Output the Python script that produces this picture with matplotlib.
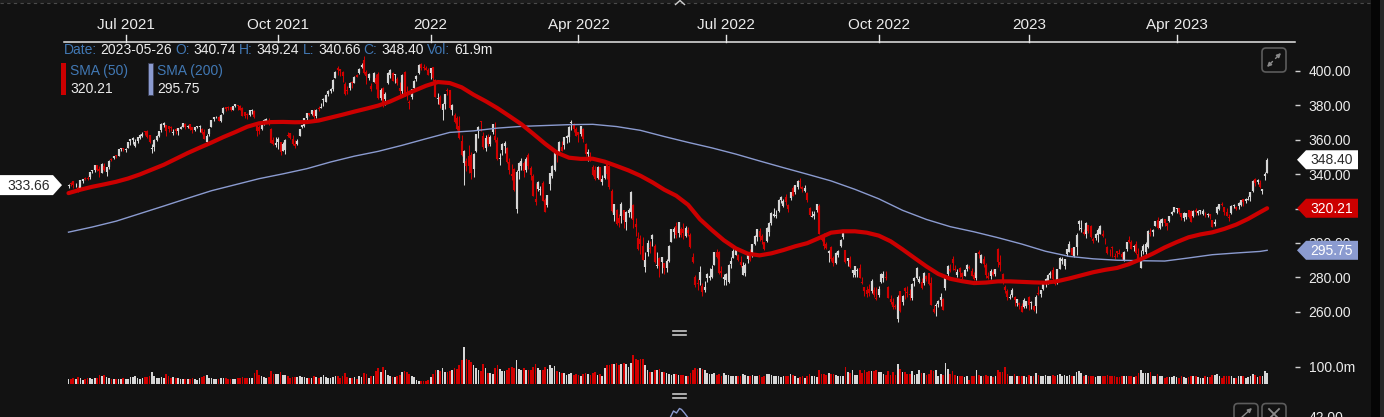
import numpy as np
import pandas as pd
import matplotlib
matplotlib.use("Agg")
import matplotlib.pyplot as plt
from matplotlib.transforms import blended_transform_factory
from matplotlib.patches import Polygon, Rectangle, FancyBboxPatch

plt.rcParams['font.family'] = ['Liberation Sans', 'DejaVu Sans']

# ---------------- data (daily bars, 2021-05-27 .. 2023-05-26) ----------------
open_ = [
 333.0, 335.0,
 336.0, 333.5, 331.9, 331.8, 336.0, 337.7, 338.0, 338.6, 341.8, 342.2, 345.5, 343.3, 340.9, 344.6, 341.0, 344.0, 348.3, 349.3, 351.1, 350.6, 354.6, 355.2,
 354.0, 355.5, 359.5, 360.0, 356.5, 359.2, 361.3, 362.1, 364.7, 365.2, 362.6, 354.5, 355.8, 360.0, 362.4, 365.5, 368.7, 368.6, 368.0, 367.1, 364.0,
 366.1, 365.2, 366.4, 367.7, 369.2, 367.6, 368.9, 367.3, 365.9, 367.6, 367.6, 366.5, 364.5, 358.9, 363.4, 367.5, 372.0, 373.0, 373.3, 371.2, 375.4, 379.2,
 378.6, 379.1, 377.4, 379.9, 380.1, 379.6, 378.7, 376.0, 374.9, 374.3, 376.8, 376.9, 368.2, 367.4, 366.5, 370.5, 370.9, 371.0, 366.5, 359.7, 357.0,
 358.7, 358.9, 353.6, 353.9, 362.8, 363.8, 360.6, 357.4, 357.4, 362.3, 367.6, 368.2, 372.8, 375.3, 375.1, 376.8, 373.8, 378.5, 378.6, 382.9, 382.0,
 386.6, 388.4, 389.3, 396.2, 401.5, 401.0, 399.5, 392.4, 388.6, 390.2, 393.6, 393.1, 397.6, 398.6, 402.3, 406.3, 399.5, 396.1, 391.5, 393.8, 395.8,
 398.0, 384.1, 390.1, 384.0, 393.2, 397.8, 398.7, 397.4, 395.3, 390.4, 388.1, 399.5, 386.7, 381.4, 385.1, 390.1, 395.1, 398.8, 404.0, 402.3, 401.9, 400.6,
 398.9, 402.2, 394.9, 383.5, 384.7, 377.2, 381.0, 388.8, 388.9, 377.3, 374.6, 372.7, 368.0, 359.5, 346.5, 347.9, 350.7, 351.4, 343.2, 353.6,
 365.1, 371.1, 362.3, 355.1, 361.5, 357.4, 364.8, 362.1, 359.9, 348.7, 353.8, 356.3, 355.2, 347.1, 340.1, 342.8, 320.0, 341.6, 344.5,
 346.5, 342.2, 351.1, 343.5, 338.7, 325.5, 331.3, 330.7, 335.0, 325.0, 322.3, 334.5, 339.0, 342.6, 351.5, 352.9, 355.8, 356.7, 361.0, 361.6, 369.6, 368.5, 366.0,
 364.4, 363.3, 366.3, 357.8, 351.5, 350.8, 344.3, 342.6, 337.9, 343.9, 335.3, 337.8, 347.0, 344.5, 330.5, 316.0, 319.2, 314.4, 315.6, 318.9,
 312.3, 317.6, 318.2, 322.3, 311.0, 302.7, 302.2, 298.0, 286.1, 294.8, 297.3, 302.1, 298.4, 286.6, 291.1, 288.7, 288.2, 285.2, 289.7, 300.8, 306.5,
 310.1, 305.6, 308.3, 308.1, 304.1, 307.4, 304.5, 291.6, 280.0, 276.7, 278.2, 275.0, 272.5, 279.9, 279.4, 280.0, 287.4, 295.0, 294.8, 283.8, 279.3,
 278.5, 277.2, 287.7, 291.4, 293.1, 293.3, 289.0, 281.6, 282.4, 290.8, 294.2, 294.3, 299.5, 303.5, 307.2, 304.2, 300.4, 301.2, 306.6, 311.6,
 315.6, 315.5, 318.6, 325.1, 321.8, 326.9, 322.0, 326.0, 332.0, 329.6, 332.4, 335.4, 332.7, 330.5, 328.8, 320.4, 315.4, 315.6, 318.9, 321.7, 302.3, 304.4, 299.3,
 294.3, 297.4, 291.5, 288.5, 292.8, 298.2, 303.2, 296.0, 289.6, 290.1, 282.5, 281.3, 283.9, 285.2, 277.6, 274.4, 272.4, 273.0, 272.0, 272.4, 268.0,
 270.0, 277.5, 279.7, 280.4, 274.7, 267.5, 265.7, 263.2, 255.9, 271.9, 265.7, 273.6, 271.2, 270.6, 268.3, 277.8, 279.6, 277.6, 277.2, 276.6, 281.1,
 282.7, 276.5, 261.8, 263.1, 264.3, 266.8, 267.3, 273.9, 281.9, 285.1, 290.8, 285.0, 281.3, 285.5, 282.6, 281.0, 284.6, 285.8, 283.5, 281.3, 279.9,
 294.6, 288.6, 290.6, 287.4, 281.1, 281.0, 282.9, 281.8, 296.3, 289.1, 282.0, 274.2, 272.3, 268.2, 269.5, 268.5, 265.3, 265.2, 263.2, 262.7, 263.2,
 268.6, 265.3, 263.5, 263.5, 270.6, 270.1, 273.2, 278.0, 276.8, 281.4, 284.5, 277.6, 277.5, 285.1, 289.3, 286.5, 293.8, 294.9, 297.0, 292.7,
 297.6, 311.2, 308.0, 306.3, 305.0, 310.2, 310.0, 302.1, 302.7, 304.5, 305.5, 305.0, 302.2, 297.5, 294.7, 297.4, 292.6, 295.2, 294.4,
 293.8, 289.7, 296.4, 301.8, 300.6, 297.5, 299.7, 293.7, 285.6, 295.1, 294.8, 297.4, 305.7, 306.6, 310.1, 313.1, 308.5, 311.8, 313.7, 311.5, 313.0, 317.1, 318.0,
 319.6, 320.5, 317.3, 314.5, 315.3, 318.9, 318.6, 315.5, 319.0, 317.6, 318.5, 316.9, 316.2, 316.4, 316.6, 313.5, 311.3, 317.5, 319.5,
 322.8, 320.9, 318.3, 315.1, 317.4, 321.3, 320.8, 321.7, 322.1, 325.7, 324.3, 325.1, 326.5, 330.4, 337.4, 335.4, 335.0, 330.0, 339.0, 340.74,
]
high = [
 334.4, 335.3,
 336.1, 334.6, 333.0, 336.9, 337.4, 338.6, 339.2, 341.5, 342.7, 345.3, 345.6, 344.7, 346.3, 346.8, 344.2, 348.2, 349.4, 350.8, 351.2, 354.5, 355.5, 355.4,
 355.0, 358.8, 360.5, 361.5, 360.3, 361.6, 363.2, 364.5, 365.3, 365.5, 363.0, 357.4, 360.5, 362.8, 365.2, 369.5, 370.2, 368.8, 368.2, 368.3, 366.2,
 366.8, 367.1, 367.8, 369.6, 369.5, 368.4, 369.0, 367.4, 367.4, 368.3, 368.4, 367.1, 366.4, 363.4, 366.7, 371.8, 373.2, 374.1, 373.6, 374.9, 378.9, 379.3,
 379.9, 379.3, 379.7, 381.0, 380.4, 380.3, 378.9, 376.4, 375.6, 377.6, 377.8, 377.1, 368.8, 368.8, 370.6, 371.9, 372.4, 372.5, 366.8, 361.8, 361.9,
 361.4, 359.0, 359.0, 360.3, 364.6, 364.1, 362.6, 360.0, 360.6, 366.3, 368.7, 372.6, 375.6, 375.7, 377.2, 378.1, 377.8, 379.9, 381.3, 384.4, 386.6,
 388.8, 390.3, 395.4, 400.0, 402.8, 401.3, 399.8, 393.6, 391.0, 393.6, 393.9, 397.2, 398.4, 401.8, 404.7, 408.7, 400.6, 398.6, 393.1, 399.4, 398.4,
 399.3, 390.2, 390.6, 388.0, 399.4, 401.1, 399.7, 398.3, 396.8, 393.4, 398.5, 400.2, 391.1, 383.2, 389.7, 394.7, 397.5, 403.9, 404.6, 404.3, 403.1, 402.0,
 402.0, 402.3, 395.6, 387.4, 386.1, 381.2, 386.7, 390.2, 389.2, 381.0, 375.8, 374.0, 373.9, 363.0, 354.1, 349.5, 357.0, 353.0, 352.1, 363.2,
 367.8, 371.2, 364.3, 362.7, 363.1, 362.7, 369.0, 370.5, 361.5, 352.6, 357.9, 359.4, 355.6, 349.7, 345.9, 343.5, 342.6, 347.0, 349.7,
 347.4, 350.0, 352.6, 344.6, 340.4, 334.7, 336.1, 333.1, 336.0, 326.0, 328.1, 340.7, 345.2, 352.8, 353.8, 359.5, 359.1, 361.8, 362.6, 367.9, 371.6, 369.5, 367.2,
 364.7, 368.3, 366.8, 358.4, 354.6, 353.0, 345.5, 344.8, 344.6, 344.1, 339.5, 345.0, 347.6, 345.6, 331.5, 322.8, 319.6, 317.0, 323.9, 319.0,
 318.4, 320.6, 330.0, 322.8, 314.3, 306.4, 304.4, 303.6, 294.8, 301.5, 301.0, 305.1, 299.4, 294.6, 292.1, 292.1, 288.4, 290.9, 298.7, 308.2, 309.5,
 312.0, 312.4, 309.3, 311.4, 309.6, 309.2, 305.9, 294.2, 281.6, 279.1, 286.9, 276.5, 277.9, 282.4, 285.4, 287.3, 294.6, 296.4, 295.2, 286.6, 281.9,
 282.4, 287.6, 291.7, 296.3, 297.9, 293.6, 292.7, 289.0, 288.5, 292.9, 296.7, 299.6, 304.8, 308.0, 308.5, 305.1, 300.5, 309.1, 312.2, 318.0,
 320.4, 319.4, 325.3, 327.4, 325.8, 328.6, 322.5, 329.6, 333.2, 333.9, 336.4, 337.8, 332.9, 333.8, 329.4, 321.1, 318.7, 318.7, 322.9, 322.4, 304.7, 306.1, 300.6,
 296.1, 298.4, 292.7, 294.6, 296.1, 302.3, 305.8, 296.1, 291.3, 292.5, 284.5, 286.9, 285.5, 287.9, 280.5, 274.6, 274.9, 275.9, 279.0, 274.3, 274.3,
 275.0, 282.4, 284.0, 283.6, 275.0, 270.0, 268.0, 264.6, 270.0, 272.2, 269.9, 274.4, 275.0, 273.4, 276.5, 280.5, 285.9, 281.1, 279.7, 283.1, 281.3,
 282.8, 280.0, 263.8, 265.4, 266.6, 271.2, 268.1, 281.3, 287.4, 287.6, 292.4, 287.1, 284.8, 285.8, 283.2, 284.6, 288.0, 287.2, 285.5, 283.0, 294.0,
 296.1, 293.7, 292.7, 288.3, 283.2, 284.6, 285.1, 285.0, 296.9, 292.8, 282.3, 275.3, 273.4, 270.2, 274.1, 269.0, 267.5, 265.6, 265.4, 267.9, 266.4,
 269.0, 266.4, 264.1, 269.5, 275.2, 272.8, 277.7, 279.5, 281.8, 283.5, 285.8, 278.2, 284.8, 292.0, 291.6, 290.6, 296.6, 301.2, 297.1, 297.9,
 305.6, 313.6, 313.1, 308.0, 312.4, 310.6, 310.2, 303.2, 305.8, 308.6, 310.2, 307.8, 302.7, 298.1, 296.6, 298.5, 294.1, 295.5, 296.7,
 294.6, 295.3, 300.6, 304.3, 301.5, 299.0, 301.3, 297.0, 295.7, 299.2, 300.3, 307.8, 309.0, 307.9, 313.0, 314.9, 313.9, 314.5, 313.7, 311.6, 315.9, 318.4, 321.1,
 320.5, 320.6, 317.7, 318.0, 317.6, 318.9, 318.9, 319.0, 320.5, 319.0, 319.4, 319.5, 317.9, 317.3, 317.1, 313.6, 314.2, 321.7, 322.9,
 323.7, 321.1, 320.4, 316.8, 322.3, 322.9, 321.8, 323.9, 325.2, 325.8, 325.9, 327.2, 329.7, 336.4, 337.6, 337.4, 336.4, 331.6, 341.3, 349.24,
]
low = [
 331.9, 333.3,
 332.0, 332.3, 329.6, 331.6, 334.9, 336.4, 336.8, 337.4, 340.6, 341.2, 341.6, 338.3, 340.6, 342.0, 338.7, 343.0, 347.5, 348.9, 349.5, 350.4, 353.6, 353.4,
 352.8, 355.2, 356.9, 357.5, 355.6, 358.3, 360.5, 361.7, 362.9, 361.2, 358.3, 352.5, 353.2, 359.3, 361.6, 364.8, 367.6, 362.1, 364.4, 365.3, 362.6,
 363.5, 362.9, 366.2, 367.4, 366.3, 366.6, 365.5, 364.2, 365.1, 367.0, 364.3, 363.2, 360.5, 357.6, 362.2, 367.3, 371.2, 372.6, 370.7, 370.4, 375.1, 376.6,
 377.6, 376.7, 377.1, 379.3, 377.4, 377.3, 374.0, 372.7, 372.2, 373.6, 374.9, 372.6, 362.5, 363.6, 365.6, 368.8, 370.2, 368.4, 357.9, 356.7, 355.6,
 354.4, 351.3, 353.3, 351.9, 361.5, 360.6, 357.2, 355.4, 356.8, 362.1, 366.6, 367.6, 371.8, 373.6, 374.4, 372.1, 372.6, 376.8, 378.3, 379.6, 381.8,
 385.5, 387.4, 388.2, 395.9, 397.8, 397.3, 393.4, 386.1, 386.5, 388.7, 390.2, 392.9, 396.3, 398.1, 402.0, 398.3, 392.4, 395.0, 388.2, 393.6, 389.3,
 384.0, 382.9, 378.9, 380.0, 392.7, 396.1, 394.3, 393.0, 391.9, 385.5, 384.8, 385.5, 383.0, 378.1, 383.6, 388.2, 394.2, 398.5, 400.6, 400.3, 400.4, 397.7,
 395.6, 394.4, 384.6, 380.6, 378.2, 371.7, 378.1, 385.8, 378.0, 374.2, 369.7, 365.5, 360.3, 350.6, 333.7, 341.8, 340.5, 337.0, 338.4, 352.8,
 360.8, 365.3, 354.8, 353.3, 356.3, 356.5, 363.4, 359.0, 348.0, 345.4, 351.1, 352.3, 346.3, 340.4, 336.9, 330.4, 317.4, 337.2, 342.3,
 338.6, 341.5, 342.9, 336.8, 327.1, 322.0, 330.4, 328.0, 324.4, 317.8, 320.8, 331.0, 337.9, 342.0, 346.9, 352.3, 353.3, 354.5, 357.9, 358.9, 365.6, 364.4, 362.3,
 358.9, 362.3, 358.6, 350.4, 347.4, 347.5, 338.9, 336.5, 337.0, 336.2, 333.6, 337.4, 337.3, 331.5, 318.0, 312.6, 310.3, 309.4, 311.6, 309.0,
 307.7, 315.2, 314.6, 309.0, 304.3, 296.0, 293.5, 289.9, 282.9, 292.3, 294.0, 298.4, 288.3, 285.2, 280.2, 282.4, 282.1, 283.1, 289.0, 300.6, 303.1,
 302.8, 303.7, 303.5, 302.2, 303.3, 304.2, 297.2, 288.4, 274.2, 272.7, 275.4, 269.3, 271.3, 277.4, 278.7, 279.5, 287.1, 291.3, 281.8, 280.1, 275.3,
 275.6, 276.8, 285.4, 291.1, 292.8, 289.3, 286.3, 281.3, 280.6, 288.1, 289.5, 292.1, 299.0, 301.4, 301.2, 299.4, 295.7, 300.6, 304.0, 310.7,
 315.1, 314.7, 318.3, 323.0, 320.7, 322.1, 317.9, 324.8, 327.1, 328.6, 331.6, 332.1, 329.6, 329.8, 324.0, 315.6, 315.1, 313.7, 318.2, 305.1, 301.1, 296.7, 296.4,
 289.2, 289.7, 286.7, 287.6, 291.6, 297.8, 302.3, 288.5, 286.4, 285.3, 280.0, 280.3, 280.5, 279.6, 276.2, 268.9, 268.4, 268.9, 270.7, 268.7, 266.9,
 268.5, 276.8, 277.2, 278.7, 267.8, 264.5, 261.4, 261.4, 254.3, 259.9, 264.0, 267.4, 268.6, 266.6, 267.1, 275.1, 278.9, 276.6, 273.2, 275.3, 278.0,
 275.4, 263.8, 259.5, 257.3, 262.6, 263.6, 261.2, 272.7, 280.3, 283.0, 284.5, 283.6, 280.2, 280.1, 279.0, 280.7, 283.6, 285.0, 280.7, 278.2, 278.4,
 291.1, 288.1, 286.2, 279.9, 278.8, 279.2, 281.1, 281.0, 285.8, 283.5, 276.1, 270.9, 267.1, 267.4, 268.6, 263.3, 263.2, 261.8, 259.9, 262.3, 262.4,
 261.0, 261.4, 260.6, 259.5, 269.9, 268.5, 272.9, 274.2, 276.1, 279.5, 278.7, 275.4, 276.3, 284.8, 288.0, 284.6, 292.3, 294.6, 292.9, 292.1,
 293.1, 307.7, 306.5, 304.4, 302.7, 305.6, 302.8, 299.8, 301.6, 300.4, 305.1, 303.7, 299.6, 293.8, 292.2, 291.8, 290.8, 291.6, 293.4,
 290.5, 289.5, 295.4, 300.0, 296.3, 295.2, 293.8, 289.3, 285.3, 293.4, 293.2, 297.0, 304.1, 303.9, 309.9, 308.3, 307.9, 309.9, 309.9, 307.4, 312.4, 316.1, 317.9,
 317.6, 317.0, 313.2, 313.0, 314.0, 314.6, 312.2, 315.0, 316.2, 316.3, 317.0, 316.5, 315.2, 315.0, 314.1, 309.2, 310.0, 316.7, 318.9,
 321.3, 316.5, 315.8, 313.0, 316.9, 320.3, 319.0, 319.8, 321.5, 321.7, 323.2, 325.0, 324.6, 329.7, 333.2, 334.4, 332.0, 328.2, 336.9, 340.66,
]
close = [
 333.66, 334.1,
 333.6, 334.0, 330.6, 336.4, 337.0, 337.2, 337.3, 341.4, 342.0, 345.1, 342.7, 341.6, 345.8, 342.5, 344.0, 347.8, 348.2, 350.6, 350.3, 354.4, 355.0, 354.4,
 354.6, 358.6, 360.2, 361.0, 358.9, 361.4, 363.0, 363.4, 364.6, 361.9, 358.9, 355.2, 359.6, 362.5, 365.0, 369.4, 369.6, 365.2, 366.4, 367.0, 364.6,
 364.9, 367.0, 367.2, 369.5, 367.4, 368.2, 366.5, 365.7, 367.3, 368.2, 368.2, 364.2, 360.6, 362.3, 366.1, 371.6, 373.0, 373.4, 370.9, 374.5, 378.7, 377.9,
 378.3, 377.6, 379.4, 380.6, 379.4, 377.5, 374.1, 373.8, 374.5, 377.4, 377.6, 373.5, 365.0, 365.1, 368.6, 371.6, 372.2, 369.0, 358.2, 357.3, 358.0,
 360.5, 352.9, 357.5, 359.6, 362.4, 361.2, 357.6, 356.3, 359.2, 366.1, 368.6, 372.4, 375.3, 374.3, 377.1, 373.2, 377.4, 378.1, 379.2, 383.8, 386.1,
 388.3, 389.8, 394.8, 399.6, 400.5, 399.8, 396.9, 386.9, 388.5, 393.2, 393.0, 396.7, 396.7, 401.3, 403.6, 398.6, 397.0, 398.0, 389.4, 398.9, 392.3,
 384.3, 388.7, 382.2, 386.5, 398.9, 400.5, 394.4, 398.1, 392.8, 388.2, 397.9, 387.5, 386.0, 381.2, 389.5, 394.3, 397.3, 403.6, 401.8, 401.7, 400.6, 397.9,
 401.7, 396.2, 384.7, 384.4, 380.4, 380.8, 386.5, 388.1, 378.6, 380.1, 370.4, 366.2, 361.2, 351.3, 353.6, 344.6, 344.5, 340.6, 351.9, 363.1,
 367.5, 370.3, 355.8, 360.9, 357.8, 361.5, 368.9, 360.1, 349.0, 349.4, 357.8, 358.2, 347.3, 342.2, 338.9, 330.6, 341.3, 346.8, 347.9,
 342.1, 349.0, 344.7, 339.7, 327.5, 323.7, 335.6, 331.6, 324.6, 318.2, 328.0, 340.6, 344.8, 352.6, 351.3, 358.6, 353.5, 361.6, 362.0, 367.7, 369.8, 366.3, 362.5,
 362.9, 368.0, 360.3, 352.0, 352.9, 348.0, 339.3, 337.2, 344.0, 336.4, 337.1, 344.9, 340.3, 332.4, 318.4, 322.5, 310.8, 311.6, 322.7, 313.2,
 318.2, 319.0, 329.7, 313.1, 309.4, 296.6, 299.6, 290.2, 289.9, 300.2, 296.6, 304.9, 289.0, 287.3, 286.8, 291.8, 285.4, 289.7, 298.1, 308.1, 308.0,
 304.8, 312.3, 304.5, 305.8, 308.5, 305.9, 297.4, 288.8, 275.5, 276.1, 283.1, 271.4, 274.7, 281.7, 281.0, 285.0, 294.6, 291.8, 282.4, 282.7, 280.3,
 282.1, 287.4, 289.6, 295.6, 296.0, 289.9, 287.2, 286.5, 287.4, 292.8, 290.4, 299.5, 304.1, 308.0, 303.3, 301.8, 296.4, 308.8, 311.8, 317.4,
 317.0, 316.0, 325.0, 327.0, 324.6, 323.7, 319.9, 329.4, 327.5, 333.8, 336.3, 335.3, 331.4, 332.2, 325.1, 316.4, 315.9, 316.9, 322.6, 305.4, 301.6, 298.4, 296.9,
 295.2, 290.6, 288.4, 294.0, 295.6, 302.0, 305.6, 288.9, 291.1, 286.3, 284.3, 286.6, 284.3, 279.9, 276.8, 272.3, 270.6, 270.8, 278.0, 270.0, 267.3,
 273.5, 282.0, 281.8, 279.5, 268.3, 265.7, 262.9, 262.8, 268.8, 260.3, 269.2, 272.0, 271.1, 269.9, 276.3, 279.4, 285.5, 279.0, 274.0, 282.6, 279.1,
 276.0, 263.9, 259.9, 263.8, 266.4, 268.6, 261.3, 281.0, 286.6, 283.6, 288.1, 284.2, 283.4, 283.2, 280.1, 284.4, 287.1, 285.3, 281.0, 278.8, 294.0,
 293.6, 293.0, 287.6, 281.2, 279.9, 283.5, 281.4, 284.9, 288.9, 287.1, 277.6, 272.5, 268.6, 268.5, 272.6, 266.6, 267.4, 263.7, 260.1, 267.0, 266.3,
 263.7, 265.4, 261.3, 268.6, 270.3, 272.5, 277.6, 279.3, 281.3, 282.7, 279.0, 276.4, 284.7, 291.4, 290.6, 290.5, 296.5, 299.4, 293.1, 297.9,
 304.5, 312.9, 308.7, 305.3, 311.8, 306.7, 303.6, 301.0, 305.5, 307.5, 310.0, 304.2, 302.1, 294.1, 294.5, 297.0, 292.0, 294.4, 293.7,
 291.8, 294.7, 300.5, 300.6, 296.8, 298.5, 294.1, 289.5, 291.2, 298.0, 299.6, 307.2, 305.1, 307.5, 312.9, 308.5, 312.6, 313.8, 311.4, 309.9, 315.7, 318.2, 320.9,
 319.7, 318.2, 315.1, 317.5, 317.3, 315.2, 312.5, 318.8, 318.1, 318.8, 318.9, 318.8, 316.0, 317.0, 315.6, 309.4, 312.1, 320.9, 322.6,
 321.9, 318.3, 315.9, 314.6, 321.6, 322.2, 319.9, 323.2, 324.8, 323.6, 325.6, 325.8, 329.5, 336.0, 335.1, 336.5, 332.4, 331.4, 339.9, 348.40,
]
volume_m = [
 30, 28,
 33, 27, 40, 38, 26, 30, 34, 38, 32, 35, 38, 55, 47, 52, 40, 37, 30, 32, 30, 32, 29, 34,
 30, 31, 41, 39, 47, 34, 32, 38, 40, 43, 45, 68, 50, 37, 35, 40, 33, 60, 48, 35, 44,
 33, 34, 30, 30, 31, 28, 32, 33, 27, 25, 35, 44, 49, 55, 38, 37, 31, 29, 32, 36, 38, 34,
 32, 31, 29, 31, 34, 33, 40, 38, 36, 35, 37, 65, 80, 52, 47, 40, 38, 44, 75, 58, 60,
 58, 70, 52, 54, 45, 38, 40, 42, 43, 47, 42, 40, 38, 33, 36, 48, 40, 37, 39, 52, 43,
 34, 34, 43, 46, 46, 36, 48, 64, 40, 35, 34, 39, 30, 45, 44, 62, 58, 36, 48, 45, 77,
 95, 70, 100, 80, 55, 45, 40, 42, 48, 55, 70, 75, 70, 60, 45, 40, 24, 18, 20, 17, 16, 22,
 40, 60, 80, 85, 75, 95, 70, 68, 75, 80, 95, 90, 110, 140, 220, 150, 140, 130, 110, 95,
 80, 75, 120, 95, 65, 62, 60, 95, 110, 90, 75, 75, 85, 95, 100, 95, 140, 90, 85,
 95, 85, 80, 85, 100, 115, 95, 80, 85, 100, 90, 110, 95, 105, 75, 70, 65, 65, 55, 60, 65, 55, 60,
 55, 45, 60, 65, 60, 55, 65, 70, 55, 60, 50, 95, 110, 110, 120, 115, 125, 110, 120, 125,
 120, 100, 125, 170, 150, 140, 145, 150, 110, 85, 70, 70, 85, 80, 88, 70, 70, 65, 60, 55, 60,
 60, 55, 55, 55, 50, 50, 65, 80, 95, 90, 95, 90, 85, 65, 60, 60, 65, 55, 60, 50, 65,
 55, 55, 50, 45, 45, 45, 45, 60, 55, 50, 50, 55, 50, 50, 55, 40, 45, 60, 60, 55,
 45, 45, 50, 40, 45, 45, 50, 60, 55, 45, 38, 42, 45, 38, 50, 60, 45, 45, 42, 85, 60, 60, 55,
 65, 60, 60, 55, 50, 50, 45, 100, 70, 65, 80, 55, 55, 80, 65, 85, 70, 75, 75, 75, 85,
 70, 70, 60, 55, 75, 55, 70, 55, 115, 90, 70, 70, 60, 60, 75, 55, 60, 80, 65, 65, 55,
 60, 80, 75, 85, 50, 60, 55, 125, 90, 60, 75, 55, 50, 50, 45, 40, 45, 22, 45, 45, 85,
 55, 50, 45, 55, 50, 45, 40, 45, 85, 70, 70, 100, 60, 50, 50, 60, 45, 45, 50, 45, 40,
 55, 50, 50, 65, 55, 45, 50, 55, 45, 45, 55, 50, 55, 60, 45, 55, 50, 55, 45, 50,
 70, 75, 65, 45, 55, 50, 50, 45, 40, 50, 45, 50, 50, 55, 50, 50, 50, 40, 40,
 45, 50, 50, 45, 45, 40, 50, 65, 80, 65, 65, 65, 70, 50, 50, 60, 50, 50, 38, 42, 40, 40, 45,
 40, 35, 45, 40, 35, 40, 50, 45, 45, 40, 35, 35, 45, 40, 40, 55, 55, 60, 45,
 35, 45, 50, 45, 50, 35, 35, 45, 45, 45, 35, 40, 50, 60, 55, 40, 50, 50, 75, 61.9,
]
# SMA(50) read at every 5th bar (plus the last bar)
sma50 = [329.0, 331.0, 332.7, 334.1, 335.6, 337.5, 339.9, 342.7, 345.5, 348.9,
         352.3, 355.4, 358.4, 361.6, 364.5, 367.6, 369.6, 370.3, 370.4, 370.2,
         370.3, 371.2, 372.9, 374.6, 376.4, 378.1, 379.9, 382.3, 385.4, 388.5,
         391.4, 393.6, 393.0, 390.5, 386.2, 382.5, 378.4, 373.8, 369.1, 363.5,
         357.7, 352.5, 349.6, 348.9, 349.0, 347.3, 344.8, 342.2, 339.1, 335.3,
         331.0, 327.5, 322.2, 313.8, 307.5, 301.6, 296.9, 293.8, 292.8, 294.0,
         295.9, 298.1, 299.9, 302.9, 306.0, 306.8, 306.8, 306.0, 304.3, 301.0,
         296.3, 291.3, 286.4, 282.0, 279.2, 277.8, 276.7, 277.0, 277.7, 277.7,
         277.4, 277.1, 276.9, 277.8, 279.4, 281.2, 283.0, 284.4, 285.5, 287.7,
         290.6, 293.8, 297.4, 300.5, 303.3, 305.0, 306.2, 308.2, 310.7, 314.0,
         317.9, 320.21]
# SMA(200) read at every 10th bar (plus the last bar)
sma200 = [306.3, 309.3, 312.7, 317.1, 321.5, 326.0, 330.4, 333.9, 337.4, 340.2, 343.2, 347.1, 350.5,
          353.3, 356.8, 360.6, 364.3, 365.2, 366.8, 367.8, 368.3, 368.8, 369.0, 367.7, 365.5, 361.9,
          358.5, 355.3, 351.7, 347.7, 343.8, 340.0, 336.1, 331.2, 325.7, 319.0, 313.7, 309.5, 306.5,
          303.1, 299.4, 295.2, 292.2, 290.8, 290.0, 289.7, 289.5, 291.3, 293.2, 294.2, 295.1, 295.75]

holidays = ['2021-05-31', '2021-07-05', '2021-09-06', '2021-11-25', '2021-12-24', '2022-01-17',
            '2022-02-21', '2022-04-15', '2022-05-30', '2022-06-20', '2022-07-04', '2022-09-05',
            '2022-11-24', '2022-12-26', '2023-01-02', '2023-01-16', '2023-02-20', '2023-04-07']
x_tick_months = ['2021-07-01', '2021-10-01', '2022-01-01', '2022-04-01',
                 '2022-07-01', '2022-10-01', '2023-01-01', '2023-04-01']
x_tick_labels = ['Jul 2021', 'Oct 2021', '2022', 'Apr 2022', 'Jul 2022', 'Oct 2022', '2023', 'Apr 2023']
price_ticks = [260, 280, 300, 320, 340, 360, 380, 400]
volume_ticks = [100]

# ---------------- setup ----------------
n = min(len(open_), len(high), len(low), len(close), len(volume_m))
O = np.array(open_[:n]); Hh = np.array(high[:n]); Lw = np.array(low[:n]); C = np.array(close[:n])
V = np.array(volume_m[:n], dtype=float)
dates = pd.bdate_range('2021-05-27', '2023-05-26')
dates = dates[~dates.isin(pd.to_datetime(holidays))]
dates = dates[:n]
idx = np.arange(n)


def sample_days(step):
    d = list(range(0, n, step))
    if d[-1] != n - 1:
        d.append(n - 1)
    return d


d50 = sample_days(5)
d200 = sample_days(10)
m50 = min(len(d50), len(sma50))
m200 = min(len(d200), len(sma200))

BG = '#121212'
UP = '#d6d6d6'
DOWN = '#d10000'
SMA50_C = '#cc0000'
SMA200_C = '#8b9bd0'
TXT = '#ececec'
LBL = '#4178b4'

W, H = 1384, 417
fig = plt.figure(figsize=(W / 100, H / 100), dpi=100)
fig.patch.set_facecolor(BG)


def rect(l, t, r, b):
    return [l / W, 1 - b / H, (r - l) / W, (b - t) / H]


# pixel-based overlay
ov = fig.add_axes([0, 0, 1, 1], zorder=10)
ov.set_xlim(0, W); ov.set_ylim(H, 0); ov.axis('off')

# price pane
ax = fig.add_axes(rect(60, 55, 1295, 330), zorder=2)
ax.set_facecolor('none')
x0_px, dx_px = 68.5, 2.383
ax.set_xlim((60 - x0_px) / dx_px, (1295 - x0_px) / dx_px)
ax.set_ylim(400 - (330 - 71) / 1.72, 400 - (55 - 71) / 1.72)
for s in ax.spines.values():
    s.set_visible(False)
ax.set_xticks([])
ax.yaxis.tick_right()
ax.set_yticks(price_ticks)
ax.set_yticklabels([f'{t:.2f}' for t in price_ticks])
ax.tick_params(axis='y', colors='#cfcfcf', labelcolor=TXT, length=3.8, width=1.0, pad=6, labelsize=10)

up = C >= O
cols = np.where(up, UP, DOWN)
ax.vlines(idx, Lw, Hh, colors=cols, lw=0.75, zorder=3)
btm = np.minimum(O, C)
top = np.maximum(np.maximum(O, C), btm + 0.5)
ax.vlines(idx, btm, top, colors=cols, lw=1.55, zorder=3)
ax.plot(d200[:m200], sma200[:m200], color=SMA200_C, lw=1.0, zorder=4)
ax.plot(d50[:m50], sma50[:m50], color=SMA50_C, lw=3.0, zorder=5, solid_capstyle='round',
        solid_joinstyle='round')

# volume pane
vax = fig.add_axes(rect(60, 340, 1295, 384), zorder=2)
vax.set_facecolor('none')
vax.set_xlim(ax.get_xlim())
vax.set_ylim(0, (384 - 340) * 100 / 17)
for s in vax.spines.values():
    s.set_visible(False)
vax.set_xticks([])
vax.yaxis.tick_right()
vax.set_yticks(volume_ticks)
vax.set_yticklabels([f'{t:.1f}m' for t in volume_ticks])
vax.tick_params(axis='y', colors='#cfcfcf', labelcolor=TXT, length=3.8, width=1.0, pad=6, labelsize=10)
vax.bar(idx, V, width=0.72, color=cols, linewidth=0, zorder=3)

# ---------------- chrome ----------------
ov.add_patch(Rectangle((0, 0), W, 3, color='#1d1d1d', lw=0))
ov.plot([0, 1370], [3, 3], color='#4a4a4a', lw=0.8, ls=(0, (3, 3)))
ov.plot([675.5, 680, 684.5], [4.5, 0.5, 4.5], color='#d0d0d0', lw=1.0)
ov.add_patch(Rectangle((1371, 0), 9, H, color='#050505', lw=0))
ov.add_patch(Rectangle((1380, 0), 4, H, color='#262626', lw=0))

# x axis (top)
ov.plot([64, 1295], [41.5, 41.5], color='#e6e6e6', lw=1.1)
tick_idx = dates.searchsorted(pd.to_datetime(x_tick_months))
trans = blended_transform_factory(ax.transData, ov.transData)
for ti, lab in zip(tick_idx, x_tick_labels):
    ov.plot([ti, ti], [35, 41.5], color='#e6e6e6', lw=1.0, transform=trans)
    ov.text(ti, 29, lab, transform=trans, ha='center', va='baseline', color=TXT, fontsize=11)

# tooltip line
last = n - 1
tip = [(64, 'Date:', LBL), (100, dates[last].strftime('%Y-%m-%d'), TXT),
       (175, 'O:', LBL), (193, f'{O[last]:.2f}', TXT),
       (239, 'H:', LBL), (256, f'{Hh[last]:.2f}', TXT),
       (303, 'L:', LBL), (318, f'{Lw[last]:.2f}', TXT),
       (363, 'C:', LBL), (381, f'{C[last]:.2f}', TXT),
       (427, 'Vol:', LBL), (454, f'{V[last]:.1f}m', TXT)]
for x, s, c in tip:
    ov.text(x, 53.5, s, color=c, fontsize=10, ha='left', va='baseline')

# legend
ov.add_patch(Rectangle((61, 63), 4.5, 32, color=SMA50_C, lw=0))
ov.text(70, 74.5, 'SMA (50)', color=LBL, fontsize=10, va='baseline')
ov.text(70, 93, f'{sma50[m50-1]:.2f}', color=TXT, fontsize=10, va='baseline')
ov.add_patch(Rectangle((148, 63), 4.5, 32, facecolor=SMA200_C, edgecolor='#3a3f55', lw=0.6))
ov.text(157, 74.5, 'SMA (200)', color=LBL, fontsize=10, va='baseline')
ov.text(157, 93, f'{sma200[m200-1]:.2f}', color=TXT, fontsize=10, va='baseline')


def ypx(val):
    return H - ax.transData.transform((0, val))[1]


def right_label(val, face, tcol):
    y = ypx(val)
    pts = [(1297, y), (1306, y - 9.5), (1358, y - 9.5), (1358, y + 9.5), (1306, y + 9.5)]
    ov.add_patch(Polygon(pts, closed=True, facecolor=face, edgecolor='none'))
    ov.text(1331.5, y + 0.5, f'{val:.2f}', color=tcol, fontsize=10, ha='center', va='center')


right_label(C[last], '#ffffff', '#2a2a2a')
right_label(sma50[m50 - 1], '#cc0000', '#ffffff')
right_label(sma200[m200 - 1], SMA200_C, '#ffffff')

# first-bar label on the left
y0 = ypx(C[0])
ov.add_patch(Polygon([(0, y0 - 10), (53, y0 - 10), (62, y0), (53, y0 + 10), (0, y0 + 10)],
                     closed=True, facecolor='#ffffff', edgecolor='none'))
ov.text(28.5, y0 + 0.5, f'{C[0]:.2f}', color='#2a2a2a', fontsize=10, ha='center', va='center')

# expand button (top right)
ov.add_patch(FancyBboxPatch((1262, 48), 24, 24, boxstyle='round,pad=0,rounding_size=4',
                            facecolor='none', edgecolor='#5c5c5c', lw=1.2))
ov.annotate('', xy=(1281, 53), xytext=(1275.5, 58.5),
            arrowprops=dict(arrowstyle='-|>', color='#8a8a8a', lw=1.0, mutation_scale=6, shrinkA=0, shrinkB=0))
ov.annotate('', xy=(1267, 67), xytext=(1272.5, 61.5),
            arrowprops=dict(arrowstyle='-|>', color='#8a8a8a', lw=1.0, mutation_scale=6, shrinkA=0, shrinkB=0))

# pane separators
for yy in (330.5, 334.5, 393.5, 397.5):
    ov.plot([673, 686], [yy, yy], color='#c8c8c8', lw=1.2)
ov.plot([670.5, 673.5, 676.5, 679.5, 681.5, 684.5, 687.5], [417, 411, 413, 408.5, 409.5, 413, 417],
        color=SMA200_C, lw=1.0)

# bottom right buttons (cut off)
for bx in (1234, 1262):
    ov.add_patch(FancyBboxPatch((bx, 403.5), 24, 24, boxstyle='round,pad=0,rounding_size=4',
                                facecolor='none', edgecolor='#5c5c5c', lw=1.2))
ov.annotate('', xy=(1252, 408), xytext=(1242, 417),
            arrowprops=dict(arrowstyle='-|>', color='#8a8a8a', lw=1.0, mutation_scale=6, shrinkA=0, shrinkB=0))
ov.plot([1269, 1279], [409, 419], color='#8a8a8a', lw=1.3)
ov.plot([1269, 1279], [419, 409], color='#8a8a8a', lw=1.3)
ov.text(1309, 422, '42.00', color=TXT, fontsize=10, ha='left', va='baseline')

fig.savefig('out.png', dpi=100, facecolor=BG)
